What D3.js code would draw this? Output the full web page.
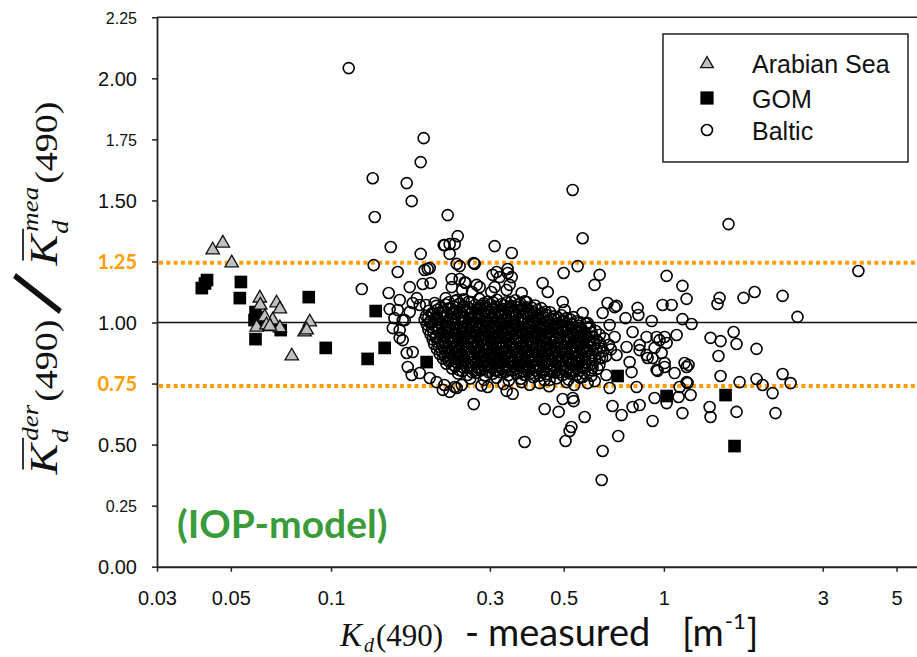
<!DOCTYPE html>
<html><head><meta charset="utf-8">
<script src="https://cdn.jsdelivr.net/npm/d3@7"></script>
<style>body{margin:0;background:#fff}svg{display:block}</style>
</head><body><svg id="c" width="917" height="657"></svg>
<script>
const xTicks=[0.03,0.05,0.1,0.3,0.5,1,3,5];
const yTicks=[0,0.25,0.5,0.75,1,1.25,1.5,1.75,2,2.25];
const ySmallTicks=[0.25,1.75,2.25];
const yOrangeTicks=[0.75,1.25];
const unityLine=[1.0];
const limitLines=[1.245,0.74];
const legendItems=["Arabian Sea","GOM","Baltic"];
const modelLabel="(IOP-model)";

const arabian=[[0.0441,1.297],[0.0473,1.325],[0.0503,1.244],[0.0611,1.100],[0.0613,1.071],[0.0686,1.080],[0.0702,1.055],[0.0598,0.981],[0.0668,1.010],[0.0702,0.978],[0.0863,1.002],[0.0833,0.961],[0.0845,0.969],[0.0762,0.863],[0.0632,1.023],[0.0640,0.990],[0.0655,0.985]];

const gom=[[0.0409,1.141],[0.0424,1.174],[0.0418,1.160],[0.0536,1.166],[0.0532,1.100],[0.0593,1.043],[0.0589,1.010],[0.0611,0.998],[0.0593,0.932],[0.0706,0.969],[0.0655,0.990],[0.0600,1.020],[0.0857,1.104],[0.0964,0.896],[0.1362,1.047],[0.1449,0.896],[0.1288,0.851],[0.1937,0.838],[0.726,0.781],[1.019,0.699],[1.532,0.703],[1.630,0.494]];

const baltic=[
[0.236,1.088],[0.250,1.095],[0.264,1.084],[0.279,1.097],[0.296,1.086],[0.315,1.093],[0.337,1.083],[0.358,1.091],[0.382,1.087],
[0.207,1.068],[0.221,1.074],[0.233,1.066],[0.244,1.077],[0.257,1.063],[0.271,1.072],[0.285,1.069],[0.301,1.075],[0.317,1.064],[0.331,1.071],[0.348,1.067],[0.366,1.074],[0.387,1.062],[0.410,1.070],
[0.197,1.048],[0.209,1.053],[0.218,1.045],[0.229,1.056],[0.239,1.047],[0.252,1.051],[0.266,1.043],[0.277,1.054],[0.291,1.049],[0.306,1.057],[0.322,1.044],[0.339,1.052],[0.354,1.046],[0.372,1.055],[0.393,1.047],[0.416,1.051],[0.441,1.044],
[0.193,1.027],[0.203,1.034],[0.213,1.025],[0.224,1.031],[0.235,1.037],[0.246,1.026],[0.258,1.033],[0.270,1.024],[0.283,1.036],[0.296,1.029],[0.311,1.022],[0.326,1.034],[0.341,1.027],[0.359,1.031],[0.377,1.024],[0.396,1.035],[0.419,1.028],[0.442,1.033],[0.466,1.025],[0.492,1.030],
[0.191,1.012],[0.199,1.006],[0.208,1.015],[0.219,1.004],[0.229,1.011],[0.241,1.017],[0.253,1.003],[0.264,1.010],[0.276,1.016],[0.289,1.005],[0.302,1.013],[0.318,1.007],[0.333,1.014],[0.347,1.003],[0.364,1.011],[0.383,1.016],[0.401,1.006],[0.423,1.012],[0.447,1.004],[0.470,1.015],[0.497,1.008],[0.523,1.013],[0.548,1.005],
[0.194,0.992],[0.205,0.986],[0.214,0.995],[0.226,0.983],[0.237,0.991],[0.248,0.997],[0.260,0.985],[0.273,0.993],[0.286,0.982],[0.298,0.996],[0.313,0.988],[0.329,0.994],[0.344,0.984],[0.361,0.991],[0.378,0.997],[0.397,0.986],[0.416,0.993],[0.437,0.981],[0.459,0.990],[0.481,0.996],[0.506,0.985],[0.531,0.992],[0.557,0.987],[0.584,0.995],
[0.196,0.971],[0.210,0.965],[0.221,0.975],[0.232,0.963],[0.243,0.970],[0.255,0.977],[0.268,0.964],[0.281,0.972],[0.294,0.966],[0.309,0.976],[0.323,0.962],[0.337,0.970],[0.353,0.975],[0.370,0.964],[0.388,0.971],[0.407,0.967],[0.428,0.977],[0.450,0.963],[0.472,0.972],[0.494,0.966],[0.518,0.974],[0.543,0.962],[0.569,0.970],[0.596,0.976],[0.624,0.965],
[0.199,0.952],[0.207,0.945],[0.217,0.956],[0.228,0.943],[0.238,0.950],[0.250,0.957],[0.262,0.944],[0.275,0.951],[0.288,0.947],[0.303,0.955],[0.317,0.942],[0.331,0.949],[0.346,0.956],[0.363,0.944],[0.380,0.951],[0.398,0.946],[0.419,0.955],[0.439,0.943],[0.461,0.950],[0.484,0.957],[0.508,0.945],[0.533,0.952],[0.556,0.947],[0.581,0.954],[0.609,0.943],[0.642,0.950],
[0.202,0.931],[0.213,0.925],[0.224,0.936],[0.234,0.923],[0.246,0.930],[0.258,0.937],[0.270,0.924],[0.283,0.932],[0.297,0.926],[0.311,0.935],[0.326,0.922],[0.341,0.929],[0.357,0.934],[0.374,0.925],[0.392,0.931],[0.411,0.937],[0.431,0.924],[0.452,0.930],[0.475,0.935],[0.499,0.923],[0.522,0.931],[0.547,0.926],[0.573,0.934],[0.600,0.922],[0.628,0.929],[0.662,0.935],
[0.204,0.912],[0.216,0.905],[0.227,0.915],[0.239,0.903],[0.251,0.911],[0.263,0.917],[0.277,0.904],[0.290,0.912],[0.305,0.906],[0.319,0.914],[0.335,0.902],[0.351,0.909],[0.368,0.916],[0.386,0.905],[0.404,0.912],[0.424,0.906],[0.445,0.914],[0.467,0.903],[0.490,0.910],[0.513,0.916],[0.538,0.904],[0.563,0.911],[0.589,0.906],[0.617,0.914],[0.648,0.903],[0.684,0.909],
[0.208,0.891],[0.220,0.885],[0.231,0.894],[0.243,0.883],[0.255,0.890],[0.268,0.896],[0.281,0.884],[0.295,0.892],[0.309,0.886],[0.324,0.894],[0.340,0.882],[0.356,0.889],[0.373,0.895],[0.392,0.884],[0.411,0.891],[0.431,0.886],[0.452,0.893],[0.474,0.882],[0.497,0.889],[0.521,0.895],[0.546,0.884],[0.571,0.891],[0.598,0.886],[0.626,0.893],[0.657,0.883],[0.693,0.890],
[0.212,0.871],[0.225,0.865],[0.236,0.874],[0.248,0.863],[0.261,0.870],[0.274,0.876],[0.288,0.864],[0.301,0.872],[0.316,0.866],[0.331,0.874],[0.347,0.862],[0.363,0.869],[0.381,0.875],[0.399,0.864],[0.418,0.871],[0.438,0.866],[0.460,0.873],[0.482,0.862],[0.505,0.869],[0.529,0.875],[0.554,0.864],[0.580,0.871],[0.607,0.866],[0.636,0.873],[0.670,0.863],
[0.217,0.852],[0.229,0.845],[0.241,0.855],[0.253,0.843],[0.266,0.851],[0.280,0.857],[0.294,0.844],[0.308,0.852],[0.323,0.846],[0.339,0.854],[0.355,0.842],[0.372,0.849],[0.390,0.856],[0.408,0.845],[0.428,0.852],[0.449,0.846],[0.471,0.854],[0.494,0.843],[0.517,0.850],[0.542,0.856],[0.567,0.845],[0.594,0.852],[0.621,0.847],[0.652,0.855],
[0.222,0.831],[0.234,0.825],[0.246,0.834],[0.259,0.823],[0.272,0.830],[0.286,0.836],[0.300,0.824],[0.315,0.832],[0.331,0.826],[0.347,0.834],[0.364,0.822],[0.381,0.829],[0.399,0.835],[0.419,0.824],[0.439,0.831],[0.460,0.826],[0.482,0.833],[0.506,0.822],[0.530,0.829],[0.555,0.835],[0.581,0.824],[0.609,0.831],[0.640,0.826],
[0.231,0.812],[0.243,0.805],[0.256,0.815],[0.269,0.803],[0.283,0.811],[0.297,0.817],[0.312,0.804],[0.327,0.812],[0.343,0.806],[0.360,0.814],[0.377,0.802],[0.395,0.809],[0.414,0.816],[0.434,0.805],[0.455,0.812],[0.477,0.806],[0.500,0.813],[0.524,0.803],[0.549,0.810],[0.575,0.816],[0.603,0.805],[0.632,0.811],
[0.241,0.791],[0.257,0.785],[0.273,0.794],[0.290,0.783],[0.306,0.790],[0.323,0.796],[0.341,0.784],[0.360,0.792],[0.380,0.786],[0.401,0.794],[0.423,0.782],[0.446,0.789],[0.470,0.795],[0.495,0.784],[0.521,0.791],[0.548,0.786],[0.577,0.793],[0.606,0.782],
[0.262,0.771],[0.288,0.765],[0.314,0.774],[0.342,0.763],[0.372,0.770],[0.405,0.776],[0.438,0.764],[0.476,0.772],[0.517,0.766],[0.560,0.774],
[0.219,0.744],[0.283,0.742],[0.330,0.748],[0.395,0.745],[0.452,0.739],[0.538,0.744],[0.590,0.752],[0.620,0.760],
[0.226,1.083],[0.243,1.077],[0.259,1.085],[0.288,1.079],[0.307,1.082],[0.326,1.076],[0.347,1.084],[0.371,1.078],
[0.214,1.062],[0.226,1.057],[0.249,1.064],[0.262,1.056],[0.280,1.061],[0.294,1.058],[0.312,1.065],[0.329,1.055],[0.344,1.060],[0.362,1.063],[0.380,1.057],[0.401,1.061],[0.428,1.059],
[0.201,1.038],[0.216,1.043],[0.232,1.036],[0.244,1.042],[0.262,1.035],[0.275,1.041],[0.289,1.038],[0.303,1.044],[0.318,1.036],[0.334,1.040],[0.351,1.037],[0.369,1.043],[0.387,1.035],[0.407,1.041],[0.431,1.038],[0.455,1.042],
[0.196,1.021],[0.206,1.017],[0.222,1.023],[0.232,1.016],[0.250,1.022],[0.261,1.018],[0.278,1.024],[0.293,1.015],[0.306,1.020],[0.322,1.023],[0.338,1.017],[0.353,1.021],[0.372,1.016],[0.390,1.022],[0.410,1.018],[0.434,1.023],[0.458,1.016],[0.481,1.020],[0.510,1.018],[0.535,1.022],
[0.198,1.001],[0.212,0.997],[0.224,1.003],[0.234,0.996],[0.247,1.002],[0.258,0.998],[0.270,1.004],[0.282,0.995],[0.294,1.000],[0.309,1.003],[0.324,0.997],[0.339,1.001],[0.355,0.996],[0.371,1.002],[0.390,0.998],[0.409,1.003],[0.430,0.995],[0.452,1.000],[0.476,0.997],[0.500,1.002],[0.526,0.996],[0.560,1.001],[0.590,0.998],
[0.201,0.981],[0.210,0.977],[0.222,0.983],[0.235,0.976],[0.245,0.982],[0.256,0.978],[0.267,0.984],[0.279,0.975],[0.292,0.980],[0.305,0.983],[0.318,0.977],[0.333,0.981],[0.349,0.976],[0.366,0.982],[0.384,0.978],[0.402,0.983],[0.421,0.975],[0.443,0.980],[0.465,0.977],[0.489,0.982],[0.512,0.976],[0.538,0.981],[0.563,0.978],[0.600,0.983],
[0.203,0.961],[0.214,0.957],[0.224,0.963],[0.235,0.956],[0.247,0.962],[0.259,0.958],[0.272,0.964],[0.286,0.955],[0.300,0.960],[0.313,0.963],[0.327,0.957],[0.342,0.961],[0.359,0.956],[0.376,0.962],[0.393,0.958],[0.412,0.963],[0.432,0.955],[0.455,0.960],[0.478,0.957],[0.501,0.962],[0.525,0.956],[0.551,0.961],[0.576,0.958],
[0.206,0.941],[0.219,0.937],[0.230,0.943],[0.241,0.936],[0.253,0.942],[0.265,0.938],[0.278,0.944],[0.291,0.935],[0.305,0.940],[0.320,0.943],[0.334,0.937],[0.349,0.941],[0.366,0.936],[0.384,0.942],[0.402,0.938],[0.421,0.943],[0.441,0.935],[0.463,0.940],[0.487,0.937],[0.511,0.942],[0.536,0.936],[0.561,0.941],[0.588,0.938],
[0.209,0.921],[0.221,0.917],[0.231,0.923],[0.243,0.916],[0.256,0.922],[0.268,0.918],[0.281,0.924],[0.294,0.915],[0.308,0.920],[0.322,0.923],[0.337,0.917],[0.353,0.921],[0.370,0.916],[0.388,0.922],[0.406,0.918],[0.426,0.923],[0.447,0.915],[0.469,0.920],[0.492,0.917],[0.517,0.922],[0.542,0.916],[0.568,0.921],[0.596,0.918],
[0.211,0.901],[0.224,0.897],[0.235,0.903],[0.247,0.896],[0.259,0.902],[0.272,0.898],[0.285,0.904],[0.299,0.895],[0.313,0.900],[0.328,0.903],[0.343,0.897],[0.359,0.901],[0.377,0.896],[0.395,0.902],[0.414,0.898],[0.434,0.903],[0.455,0.895],[0.478,0.900],[0.501,0.897],[0.525,0.902],[0.550,0.896],[0.576,0.901],
[0.215,0.881],[0.228,0.877],[0.240,0.883],[0.252,0.876],[0.264,0.882],[0.277,0.878],[0.291,0.884],[0.305,0.875],[0.319,0.880],[0.335,0.883],[0.350,0.877],[0.367,0.881],[0.385,0.876],[0.403,0.882],[0.422,0.878],[0.442,0.883],[0.463,0.875],[0.486,0.880],[0.509,0.877],[0.533,0.882],[0.559,0.876],[0.586,0.881],
[0.220,0.861],[0.233,0.857],[0.245,0.863],[0.257,0.856],[0.270,0.862],[0.283,0.858],[0.297,0.864],[0.311,0.855],[0.326,0.860],[0.342,0.863],[0.358,0.857],[0.375,0.861],[0.393,0.856],[0.411,0.862],[0.431,0.858],[0.451,0.863],[0.473,0.855],[0.496,0.860],[0.519,0.857],[0.544,0.862],[0.570,0.856],[0.598,0.861],
[0.226,0.841],[0.238,0.837],[0.250,0.843],[0.263,0.836],[0.276,0.842],[0.290,0.838],[0.304,0.844],[0.319,0.835],[0.334,0.840],[0.350,0.843],[0.367,0.837],[0.384,0.841],[0.402,0.836],[0.421,0.842],[0.441,0.838],[0.462,0.843],[0.484,0.835],[0.507,0.840],[0.531,0.837],[0.556,0.842],[0.583,0.836],
[0.236,0.821],[0.249,0.817],[0.262,0.823],[0.275,0.816],[0.289,0.822],[0.304,0.818],[0.319,0.824],[0.335,0.815],[0.351,0.820],[0.368,0.823],[0.386,0.817],[0.405,0.821],[0.425,0.816],[0.446,0.822],[0.468,0.818],[0.490,0.823],[0.514,0.815],[0.539,0.820],[0.565,0.817],
[0.248,0.801],[0.265,0.797],[0.281,0.803],[0.298,0.796],[0.316,0.802],[0.334,0.798],[0.352,0.804],[0.371,0.795],[0.391,0.800],[0.412,0.803],[0.434,0.797],[0.458,0.801],[0.483,0.796],[0.508,0.802],[0.534,0.798],[0.560,0.803],
[0.1130,2.042],[0.1898,1.755],[0.1859,1.657],[0.1334,1.591],[0.1688,1.571],[0.1747,1.497],[0.1353,1.432],[0.2241,1.440],[0.2402,1.354],[0.2195,1.317],[0.2272,1.321],[0.2352,1.321],[0.1511,1.309],[0.1859,1.281],[0.2272,1.281],[0.1343,1.235],[0.1586,1.207],[0.1911,1.215],[0.1979,1.223],[0.2385,1.240],[0.2435,1.231],[0.2701,1.240],[0.3144,1.207],[0.3393,1.219],[0.3490,1.186],[0.1237,1.137],[0.1723,1.145],[0.1885,1.158],[0.1992,1.162],[0.2304,1.178],[0.2304,1.145],[0.2435,1.178],[0.2537,1.162],[0.2739,1.154],[0.1490,1.121],[0.3738,1.121],[0.3101,1.145],[0.3369,1.133],[0.1608,1.092],[0.1759,1.080],[0.1847,1.072],[0.2048,1.080],[0.1500,1.055],[0.1586,1.051],[0.1723,1.043],[0.1665,1.010],[0.1533,0.977],[0.1608,0.969],[0.1550,1.018],[0.1642,0.928],[0.1759,0.879],[0.1688,0.875],[0.1700,0.818],[0.1847,0.793],[0.1747,0.785],[0.1979,0.773],[0.2076,0.756],[0.2168,0.724],[0.2272,0.716],[0.2385,0.732],[0.2683,0.666],[0.3369,0.720],[0.3514,0.708],
[0.5319,1.543],[0.5700,1.345],[0.3101,1.313],[0.3490,1.285],[1.564,1.403],[3.84,1.211],[0.5505,1.231],[0.4998,1.203],[0.6411,1.195],[0.6193,1.154],[1.019,1.191],[1.137,1.150],[1.170,1.097],[1.470,1.101],[1.449,1.076],[1.735,1.101],[1.873,1.125],[2.273,1.109],[2.520,1.023],[0.6775,1.080],[0.7207,1.068],[0.8337,1.060],[0.9910,1.072],[1.055,1.072],[0.838,1.031],[0.919,1.006],[0.767,1.018],[0.4321,1.162],[0.4478,1.125],[0.4965,1.084],[0.5033,1.051],[0.5700,1.039],[0.6546,1.039],[0.3869,1.084],[0.3210,1.186],[0.3393,1.203],[0.2683,1.244],[1.137,1.014],[1.211,0.994],
[1.381,0.937],[1.480,0.924],[1.620,0.961],[1.653,0.912],[1.898,0.892],[1.459,0.863],[1.092,0.949],[1.005,0.941],[0.9707,0.928],[1.019,0.916],[0.9377,0.896],[0.9842,0.875],[0.8873,0.867],[0.8454,0.908],[0.9246,0.855],[1.154,0.834],[1.186,0.826],[1.005,0.818],[0.9573,0.802],[1.077,0.793],[1.480,0.781],[1.898,0.769],[1.688,0.756],[1.979,0.744],[2.273,0.789],[2.402,0.752],[1.178,0.752],[1.115,0.736],[1.203,0.703],[1.107,0.695],[0.9377,0.691],[1.019,0.670],[2.121,0.711],[1.372,0.654],[1.381,0.613],[1.653,0.634],[2.164,0.629],[1.137,0.629],[0.9246,0.597],[0.8454,0.662],
[0.7291,0.535],[0.6546,0.474],[0.6502,0.355],[0.8053,0.654],[0.7463,0.621],[0.7008,0.658],[0.5273,0.572],[0.5210,0.556],[0.5064,0.515],[0.5779,0.613],[0.5355,0.678],[0.4965,0.687],[0.4829,0.634],[0.4383,0.646],[0.3816,0.511],[0.2955,0.736],[0.2352,0.736],[1.005,0.834],[1.170,0.756],[1.170,0.818],[0.5321,0.691],
[0.7112,1.063],[0.687,0.990],[0.6066,0.958],[0.7112,0.941],[0.8053,0.961],[0.8873,0.941],[0.9509,0.941],[0.6411,0.916],[0.7727,0.900],[0.8454,0.887],[0.8936,0.855],[0.9509,0.806],[0.7889,0.838],[0.7207,0.867],[0.6411,0.855],[0.5860,0.887],[0.5466,0.834],[0.6106,0.814],[0.6714,0.785],[0.7995,0.797],[0.8279,0.736],[0.687,0.732],[0.5700,0.777],[0.5100,0.756],[0.4537,0.765],[0.4234,0.752],[0.3738,0.756],
[0.2522,1.165],[0.2477,1.133],[0.2653,1.125],[0.2796,1.145],[0.3058,1.195],[0.344,1.154],[0.303,1.125],[0.181,1.100],[0.193,1.072],[0.2211,1.100],[0.2385,1.092],[0.1952,1.219],[0.2180,1.317],[0.1642,1.010],[0.1608,0.937],[0.247,0.744]
];

const svg=d3.select("#c");
const M={l:157,r:918,t:17.3,b:566.7};
const x=d3.scaleLog().domain([0.03,5.8]).range([M.l,M.r]);
const y=d3.scaleLinear().domain([0,2.25]).range([M.b,M.t]);
const SANS="'Liberation Sans', Arial, sans-serif";
const SERIF="'Liberation Serif', 'Times New Roman', serif";
const CAL="Lato, 'Open Sans', sans-serif";
const ORANGE="#ff9c00";

svg.append("line").attr("x1",M.l).attr("x2",917).attr("y1",y(2.25)).attr("y2",y(2.25)).attr("stroke","#222").attr("stroke-width",1.5);

svg.selectAll("line.unity").data(unityLine).join("line").attr("class","unity")
  .attr("x1",M.l).attr("x2",917).attr("y1",d=>y(d)).attr("y2",d=>y(d)).attr("stroke","#111").attr("stroke-width",1.5);
svg.selectAll("line.lim").data(limitLines).join("line").attr("class","lim")
  .attr("x1",M.l+2).attr("x2",917).attr("y1",d=>y(d)).attr("y2",d=>y(d))
  .attr("stroke",ORANGE).attr("stroke-width",4).attr("stroke-dasharray","4,3.3");

const pts=svg.append("g");
pts.selectAll("circle").data(baltic).join("circle")
  .attr("cx",d=>x(d[0])).attr("cy",d=>y(d[1])).attr("r",5.5)
  .attr("fill","none").attr("stroke","#000").attr("stroke-width",1.6);
const sq=d3.symbol().type(d3.symbolSquare).size(160);
pts.selectAll("path.gom").data(gom).join("path").attr("class","gom")
  .attr("d",sq).attr("transform",d=>`translate(${x(d[0])},${y(d[1])})`).attr("fill","#000");
const tri=d3.symbol().type(d3.symbolTriangle).size(78);
pts.selectAll("path.ara").data(arabian).join("path").attr("class","ara")
  .attr("d",tri).attr("transform",d=>`translate(${x(d[0])},${y(d[1])})`)
  .attr("fill","#c0c0c0").attr("stroke","#111").attr("stroke-width",1.3);

const gx=svg.append("g").attr("transform",`translate(0,${M.b})`)
  .call(d3.axisBottom(x).tickValues(xTicks).tickFormat(d=>String(d)).tickSize(5).tickSizeOuter(0));
gx.select(".domain").attr("stroke","#222").attr("stroke-width",2);
gx.selectAll(".tick line").attr("stroke","#222").attr("stroke-width",1.5);
gx.selectAll(".tick text").attr("font-family",SANS).attr("font-size",20).attr("fill","#111").attr("y",38).attr("dy",0);

const gy=svg.append("g").attr("transform",`translate(${M.l},0)`)
  .call(d3.axisLeft(y).tickValues(yTicks).tickFormat(d3.format(".2f")).tickSize(5).tickSizeOuter(0));
gy.select(".domain").attr("stroke","#222").attr("stroke-width",1.8);
gy.selectAll(".tick line").attr("stroke","#222").attr("stroke-width",1.5);
gy.selectAll(".tick text").attr("x",-20).attr("dy","0.36em")
  .attr("font-family",d=>yOrangeTicks.includes(d)?CAL:SANS)
  .attr("font-weight",d=>yOrangeTicks.includes(d)?"bold":"normal")
  .attr("font-size",d=>ySmallTicks.includes(d)?16:20)
  .attr("fill",d=>yOrangeTicks.includes(d)?ORANGE:"#111");

svg.append("text").attr("x",177).attr("y",538).text(modelLabel)
  .attr("font-family",CAL).attr("font-weight","bold").attr("font-size",39).attr("fill","#3a9b3a");

const lg=svg.append("g");
lg.append("rect").attr("x",663).attr("y",34).attr("width",245).attr("height",128)
  .attr("fill","#fff").attr("stroke","#222").attr("stroke-width",1.5);
const rowsY=[63,98,130];
lg.append("path").attr("d",d3.symbol().type(d3.symbolTriangle).size(70)).attr("transform",`translate(707,${rowsY[0]+1})`)
  .attr("fill","#c0c0c0").attr("stroke","#111").attr("stroke-width",1.3);
lg.append("path").attr("d",d3.symbol().type(d3.symbolSquare).size(175)).attr("transform",`translate(707,${rowsY[1]})`).attr("fill","#000");
lg.append("circle").attr("cx",707).attr("cy",rowsY[2]).attr("r",5.5).attr("fill","none").attr("stroke","#000").attr("stroke-width",1.6);
lg.selectAll("text").data(legendItems).join("text").attr("x",752).attr("y",(d,i)=>rowsY[i]+10)
  .text(d=>d).attr("font-family",SANS).attr("font-size",25).attr("fill","#111");

function T(g,str,xx,yy,size,fam,style){
  const t=g.append("text").attr("x",xx).attr("y",yy).text(str).attr("font-family",fam).attr("font-size",size).attr("fill","#111");
  if(style) t.attr("font-style",style);
  return t.node().getComputedTextLength();
}

const xt=svg.append("g");
let cx=340;
cx+=T(xt,"K",cx,646,33,SERIF,"italic")+2;
cx+=T(xt,"d",cx,652,20,SERIF,"italic")+2;
T(xt,"(490)",cx,646,31,SERIF);
T(xt,"-",465,646,38,CAL);
T(xt,"measured",488,646,38,CAL);
let cx2=682;
cx2+=T(xt,"[m",cx2,646,38,CAL);
const wsup=T(xt,"-1",cx2+1,629,22,CAL);
T(xt,"]",cx2+wsup+2,646,38,CAL);

const yt=svg.append("g");
const inner=yt.append("g");
const KS=46, SS=27, PS=38;
function barK(xx){
  const w=T(inner,"K",xx,0,KS,SERIF,"italic");
  inner.append("line").attr("x1",xx+5).attr("x2",xx+w+6).attr("y1",-40).attr("y2",-40).attr("stroke","#111").attr("stroke-width",2);
  return w;
}
let p=0;
p+=barK(p)+1;
let w1=T(inner,"d",p,13,SS,SERIF,"italic"), w2=T(inner,"der",p+2,-22,SS,SERIF,"italic");
p+=Math.max(w1,w2+2)+3;
p+=T(inner,"(490)",p,0,PS,SERIF)+8;
inner.append("line").attr("x1",p).attr("y1",4).attr("x2",p+36).attr("y2",-50).attr("stroke","#111").attr("stroke-width",6);
p+=36+10;
p+=barK(p)+1;
w1=T(inner,"d",p,13,SS,SERIF,"italic"); w2=T(inner,"mea",p+2,-22,SS,SERIF,"italic");
p+=Math.max(w1,w2+2)+3;
p+=T(inner,"(490)",p,0,PS,SERIF);
const W=p, cyl=288, bx=57;
yt.attr("transform",`translate(${bx},${cyl+W/2}) rotate(-90) scale(1,0.85)`);
</script></body></html>
